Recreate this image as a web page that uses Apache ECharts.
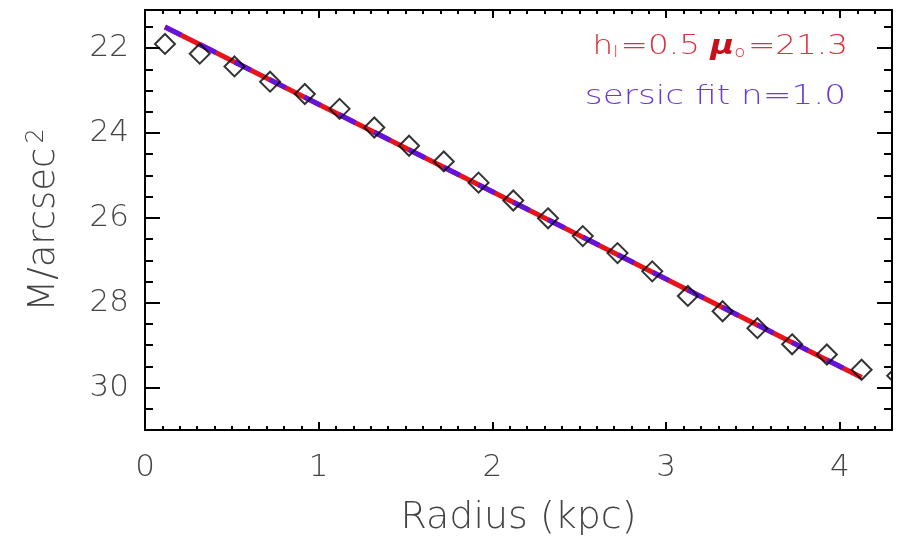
<!DOCTYPE html>
<html>
<head>
<meta charset="utf-8">
<script src="https://cdn.jsdelivr.net/npm/echarts@6/dist/echarts.min.js"></script>
<style>
  html, body { margin: 0; padding: 0; background: #fff; }
  #chart { width: 900px; height: 545px; }
</style>
</head>
<body>
<div id="chart"></div>
<script>
// Surface brightness profile: measured points and the two fits
const radiusKpc = [0.115, 0.315, 0.515, 0.72, 0.92, 1.12, 1.32, 1.52, 1.72, 1.92, 2.12,
                   2.32, 2.52, 2.72, 2.92, 3.125, 3.325, 3.525, 3.725, 3.925, 4.125, 4.33];
const surfaceMu = [21.9, 22.13, 22.43, 22.79, 23.08, 23.43, 23.87, 24.3, 24.67, 25.17, 25.59,
                   26.01, 26.43, 26.83, 27.26, 27.84, 28.2, 28.6, 28.98, 29.22, 29.58, 29.72];

// Exponential disk fit (end points) and Sersic fit (end points)
const expFitR = [0.115, 4.126];
const expFitMu = [21.5, 29.76];
const sersicFitR = [0.115, 4.126];
const sersicFitMu = [21.5, 29.76];

// Axis ticks
const xMajorTicks = [0, 1, 2, 3, 4];
const yMajorTicks = [22, 24, 26, 28, 30];
const xRange = [0, 4.3];
const yRange = [21.1, 31];

const xMinorTicks = [];
for (let i = 1; i <= 42; i++) { if (i % 10 !== 0) xMinorTicks.push(+(i * 0.1).toFixed(1)); }
const yMinorTicks = [];
for (let v = 21.5; v <= 30.5; v += 0.5) { if (v % 2 !== 0) yMinorTicks.push(v); }

const FONT = 'DejaVu Sans';
const INK = '#000';
const LABEL = '#444';

function zip(a, b) { return a.map((v, i) => [v, b[i]]); }

function xAxisDef(position, ticks, len, withLabels) {
  return {
    type: 'value', position: position, min: xRange[0], max: xRange[1],
    axisLine: { show: true, onZero: false, lineStyle: { color: INK, width: 2 } },
    axisTick: { show: true, inside: true, length: len, customValues: ticks,
                lineStyle: { color: INK, width: 2 } },
    axisLabel: withLabels ? { show: true, customValues: xMajorTicks, margin: 22,
                fontFamily: FONT, fontWeight: 200, fontSize: 31, color: LABEL } : { show: false },
    splitLine: { show: false }
  };
}
function yAxisDef(position, ticks, len, withLabels) {
  return {
    type: 'value', position: position, min: yRange[0], max: yRange[1], inverse: true,
    axisLine: { show: true, onZero: false, lineStyle: { color: INK, width: 2 } },
    axisTick: { show: true, inside: true, length: len, customValues: ticks,
                lineStyle: { color: INK, width: 2 } },
    axisLabel: withLabels ? { show: true, customValues: yMajorTicks, margin: 16,
                fontFamily: FONT, fontWeight: 200, fontSize: 31, color: LABEL } : { show: false },
    splitLine: { show: false }
  };
}

const xBottom = xAxisDef('bottom', xMajorTicks, 8, true);
xBottom.name = 'Radius (kpc)';
xBottom.nameLocation = 'middle';
xBottom.nameGap = 69;
xBottom.nameTextStyle = { fontFamily: FONT, fontWeight: 200, fontSize: 38, color: LABEL };

const yLeft = yAxisDef('left', yMajorTicks, 15, true);
yLeft.name = 'M/arcsec{sup|2}';
yLeft.nameLocation = 'middle';
yLeft.nameGap = 82;
yLeft.nameTextStyle = {
  fontFamily: FONT, fontWeight: 200, fontSize: 37, color: LABEL,
  rich: { sup: { fontFamily: FONT, fontWeight: 200, fontSize: 24, color: LABEL,
                 verticalAlign: 'top', padding: [0, 0, 14, 4] } }
};

const option = {
  animation: false,
  backgroundColor: '#fff',
  grid: { left: 145, right: 8, top: 10, bottom: 115, containLabel: false },
  xAxis: [
    xBottom,
    xAxisDef('bottom', xMinorTicks, 4, false),
    xAxisDef('top', xMajorTicks, 8, false),
    xAxisDef('top', xMinorTicks, 4, false)
  ],
  yAxis: [
    yLeft,
    yAxisDef('left', yMinorTicks, 8, false),
    yAxisDef('right', yMajorTicks, 15, false),
    yAxisDef('right', yMinorTicks, 8, false)
  ],
  graphic: [
    {
      // the frame ends at the right axis; hide anything drawn past it
      type: 'rect', z: 90, silent: true,
      shape: { x: 893, y: 0, width: 10, height: 545 },
      style: { fill: '#fff' }
    },
    {
      type: 'text', z: 100, x: 848, y: 47, scaleX: 1.21, scaleY: 1,
      style: {
        x: 0, y: 0, text: 'h{sub|l}=0.5 {mu|μ}{sub|o}=21.3',
        textAlign: 'right', textVerticalAlign: 'middle', align: 'right', verticalAlign: 'middle',
        fill: '#e0303c', fontFamily: FONT, fontWeight: 200, fontSize: 27,
        rich: {
          sub: { fill: '#e0303c', fontFamily: FONT, fontWeight: 200, fontSize: 15,
                 verticalAlign: 'bottom', padding: [0, 2, 0, 0] },
          mu: { fill: '#c8101c', fontFamily: FONT, fontStyle: 'italic', fontWeight: 'bold', fontSize: 27 }
        }
      }
    },
    {
      type: 'text', z: 100, x: 846, y: 97, scaleX: 1.27, scaleY: 1,
      style: {
        x: 0, y: 0, text: 'sersic fit n=1.0',
        textAlign: 'right', textVerticalAlign: 'middle', align: 'right', verticalAlign: 'middle',
        fill: '#6a3ad6', fontFamily: FONT, fontWeight: 200, fontSize: 27
      }
    }
  ],
  series: [
    {
      type: 'line', name: 'exponential', data: zip(expFitR, expFitMu),
      xAxisIndex: 0, yAxisIndex: 0, symbol: 'none', z: 2,
      lineStyle: { color: '#e8141c', width: 5 }
    },
    {
      type: 'line', name: 'sersic', data: zip(sersicFitR, sersicFitMu),
      xAxisIndex: 0, yAxisIndex: 0, symbol: 'none', z: 3,
      lineStyle: { color: '#6214dc', width: 5, type: [18, 21], cap: 'butt' }
    },
    {
      type: 'scatter', name: 'profile', data: zip(radiusKpc, surfaceMu),
      xAxisIndex: 0, yAxisIndex: 0, z: 4, clip: false,
      symbol: 'diamond', symbolSize: 20,
      itemStyle: { color: 'rgba(0,0,0,0)', borderColor: '#000', borderWidth: 2 }
    }
  ]
};

const chart = echarts.init(document.getElementById('chart'), null, { renderer: 'canvas' });
chart.setOption(option);
</script>
</body>
</html>
